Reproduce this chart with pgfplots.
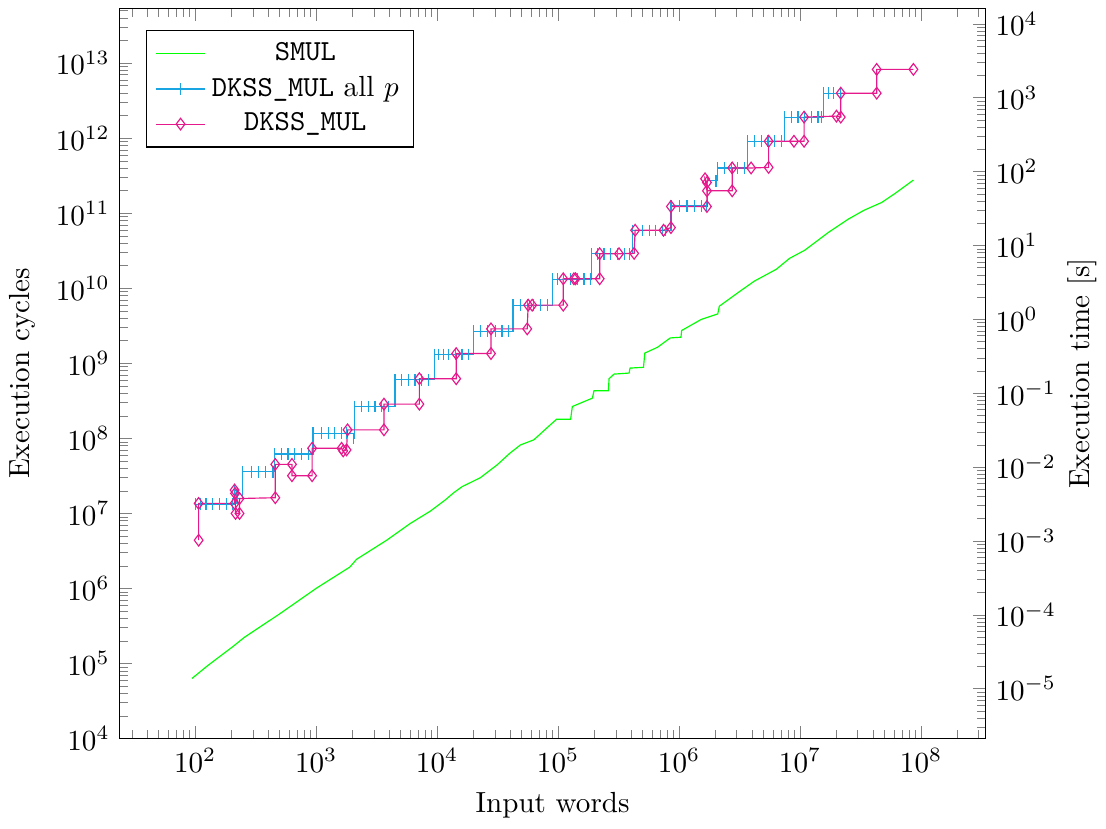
\documentclass[border=0pt]{standalone}
\usepackage{pgfplots}
\pgfplotsset{compat=1.18}
\definecolor{dkblue}{RGB}{25,165,225}
\definecolor{dkmag}{RGB}{230,25,140}
\pgfplotstableread{
x y
94.4 6.34e4
127 9.37e4
205 1.68e5
256 2.24e5
500 4.59e5
1007 1.01e6
1901 1.93e6
2161 2.45e6
3836 4.40e6
5987 7.33e6
8770 1.07e7
11670 1.51e7
13680 1.88e7
16060 2.27e7
22760 2.99e7
31320 4.43e7
39840 6.32e7
48850 8.18e7
62960 9.55e7
81300 1.39e8
97200 1.80e8
127000 1.80e8
131200 2.66e8
192300 3.44e8
198200 4.32e8
260800 4.32e8
263900 6.24e8
290100 7.19e8
386400 7.42e8
393800 8.65e8
508200 8.85e8
521200 1.37e9
664800 1.64e9
845800 2.18e9
1.037e6 2.23e9
1.051e6 2.74e9
1.521e6 3.84e9
2.089e6 4.56e9
2.153e6 5.78e9
3.258e6 9.37e9
4.204e6 1.25e10
6.357e6 1.79e10
8.200e6 2.51e10
1.092e7 3.21e10
1.706e7 5.52e10
2.500e7 8.34e10
3.394e7 1.10e11
4.721e7 1.39e11
6.081e7 1.83e11
8.650e7 2.77e11
}\smul
\pgfplotstableread{
x y
100 1.33e7
110 1.33e7
123 1.33e7
140 1.33e7
159 1.33e7
181 1.33e7
205 1.33e7
212 2.05e7
222 1.58e7
248 3.60e7
291 3.60e7
335 3.60e7
383 3.60e7
440 3.60e7
455 6.21e7
517 6.21e7
586 6.21e7
665 6.21e7
757 6.21e7
859 6.21e7
944 1.17e8
1109 1.17e8
1259 1.17e8
1429 1.17e8
1625 1.17e8
1786 1.17e8
2028 1.00e8
2094 2.66e8
2377 2.66e8
2698 2.66e8
3069 2.66e8
3483 2.66e8
3954 2.66e8
4497 6.05e8
5105 6.05e8
5796 6.05e8
6577 6.05e8
7478 6.05e8
8492 6.05e8
9506 1.31e9
10270 1.31e9
11300 1.31e9
12440 1.31e9
14130 1.31e9
16060 1.31e9
18200 1.31e9
20040 2.68e9
22750 2.68e9
26180 2.68e9
30340 2.68e9
34440 2.68e9
39080 2.68e9
42360 5.96e9
48870 5.96e9
55590 5.96e9
62950 5.96e9
71610 5.96e9
81280 5.96e9
89540 1.32e10
98400 1.32e10
111700 1.32e10
127000 1.32e10
144300 1.32e10
163700 1.32e10
185800 1.32e10
188400 2.89e10
211300 2.89e10
239900 2.89e10
272500 2.89e10
309700 2.89e10
351500 2.89e10
386400 2.89e10
411100 5.90e10
498900 5.90e10
566200 5.90e10
642700 5.90e10
730800 5.90e10
778000 5.90e10
857000 1.25e11
1.004e6 1.25e11
1.164e6 1.25e11
1.337e6 1.25e11
1.521e6 1.25e11
1.688e6 1.25e11
1.726e6 2.71e11
2.023e6 2.71e11
2.089e6 4.01e11
2.371e6 4.01e11
2.692e6 4.01e11
3.061e6 4.01e11
3.475e6 4.01e11
3.707e6 9.10e11
4.207e6 9.10e11
4.779e6 9.10e11
5.433e6 9.10e11
6.152e6 9.10e11
6.998e6 9.10e11
7.447e6 1.91e12
8.472e6 1.91e12
9.616e6 1.91e12
1.091e7 1.91e12
1.242e7 1.91e12
1.409e7 1.91e12
1.503e7 1.91e12
1.552e7 3.98e12
1.706e7 3.98e12
1.879e7 3.98e12
2.173e7 3.98e12
}\dkssall
\pgfplotstableread{
x y
107 4.40e6
107 1.36e7
212 1.36e7
212 2.05e7
214 1.85e7
216 1.00e7
233 1.00e7
233 1.58e7
460 1.62e7
460 4.51e7
632 4.51e7
632 3.18e7
927 3.18e7
927 7.38e7
1625 7.38e7
1675 6.81e7
1786 7.02e7
1820 1.30e8
3640 1.30e8
3640 2.86e8
7140 2.86e8
7140 6.24e8
14390 6.24e8
14390 1.35e9
27900 1.35e9
27900 2.88e9
55600 2.88e9
56600 5.96e9
61100 5.96e9
110400 5.96e9
110400 1.34e10
135200 1.34e10
139600 1.34e10
220800 1.34e10
220800 2.89e10
319000 2.89e10
425600 2.92e10
433500 5.94e10
744700 5.94e10
857000 6.44e10
857000 1.23e11
1.70e6 1.23e11
1.70e6 2.57e11
1.64e6 2.88e11
1.70e6 1.99e11
2.75e6 1.99e11
2.75e6 4.01e11
3.94e6 4.01e11
5.50e6 4.08e11
5.50e6 9.10e11
8.91e6 9.10e11
1.08e7 9.10e11
1.08e7 1.91e12
2.00e7 1.97e12
2.17e7 1.91e12
2.17e7 3.98e12
4.30e7 3.98e12
4.30e7 8.26e12
8.65e7 8.26e12
}\dkss
\begin{document}
\begin{tikzpicture}
\begin{axis}[
  scale only axis, width=297.4pt, height=250.9pt,
  xmode=log, ymode=log,
  xmin=23.9, xmax=3.4e8, ymin=1e4, ymax=5.36e13,
  ytick pos=left,
  xlabel={Input words}, ylabel={Execution cycles},
  legend pos=north west, legend cell align=center,
]
\addplot[green, no marks] table {\smul};
\addplot[dkblue, mark=|, const plot] table {\dkssall};
\addplot[dkmag, mark=diamond] table {\dkss};
\legend{\texttt{SMUL}, \texttt{DKSS\_MUL} all $p$, \texttt{DKSS\_MUL}}
\end{axis}
\begin{axis}[
  scale only axis, width=297.4pt, height=250.9pt,
  xmode=log, ymode=log,
  xmin=23.9, xmax=3.4e8, ymin=2.11e-6, ymax=1.62e4,
  axis y line*=right, axis x line=none,
  ylabel={Execution time [s]}, ylabel shift=-3pt,
]
\addplot[draw=none] coordinates {(1000,1)};
\end{axis}
\path (current axis.north) ++(0,2.9pt);
\end{tikzpicture}
\end{document}
